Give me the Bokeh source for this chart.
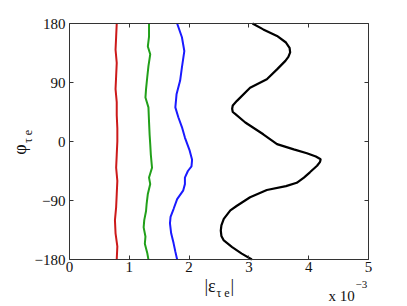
import numpy as np
from bokeh.plotting import figure
from bokeh.models import LinearAxis, Label, FixedTicker, Range1d
from bokeh.embed import file_html
from bokeh.resources import INLINE

# |eps| values in units of 1e-3, phi in degrees
phi_red = [180, 160, 140, 120, 100, 80, 60, 40, 20, 0, -20, -40, -60, -80, -100, -120, -140, -160, -180]
eps_red = [0.79, 0.78, 0.77, 0.79, 0.78, 0.77, 0.79, 0.79, 0.80, 0.80, 0.79, 0.78, 0.80, 0.79, 0.78, 0.76, 0.77, 0.80, 0.79]

phi_green = [180, 160, 145, 133, 115, 98, 80, 67, 52, 30, 10, -4, -20, -40, -55, -65, -80, -95, -106, -120, -131, -145, -156, -170, -180]
eps_green = [1.33, 1.33, 1.31, 1.35, 1.32, 1.30, 1.28, 1.27, 1.32, 1.33, 1.34, 1.35, 1.36, 1.38, 1.33, 1.35, 1.31, 1.29, 1.28, 1.25, 1.24, 1.27, 1.26, 1.30, 1.32]

phi_blue = [180, 159, 138, 113, 93, 72, 52, 37, 22, 6, -14, -28, -38, -45, -55, -65, -75, -88, -103, -115, -125, -140, -155, -168, -180]
eps_blue = [1.80, 1.88, 1.92, 1.88, 1.85, 1.79, 1.77, 1.82, 1.88, 1.93, 2.01, 2.05, 2.04, 1.98, 1.93, 1.93, 1.90, 1.80, 1.74, 1.69, 1.68, 1.70, 1.74, 1.77, 1.80]

phi_black = [180, 171, 161, 151, 143, 136, 129, 123, 110, 95, 82, 62, 55, 50, 45, 42, 29, 11, -4, -12, -18, -23, -27, -31, -37, -47, -55, -63, -68, -74, -85, -98, -105, -118, -128, -136, -144, -151, -161, -171, -180]
eps_black = [3.06, 3.24, 3.47, 3.62, 3.68, 3.69, 3.66, 3.61, 3.47, 3.30, 3.02, 2.80, 2.73, 2.72, 2.73, 2.77, 2.94, 3.24, 3.47, 3.75, 3.97, 4.12, 4.20, 4.19, 4.14, 4.02, 3.92, 3.80, 3.62, 3.30, 3.02, 2.80, 2.69, 2.58, 2.54, 2.53, 2.54, 2.58, 2.72, 2.88, 3.05]

x_ticks = [0, 1, 2, 3, 4, 5]
y_ticks = [-180, -90, 0, 90, 180]
X0, X1 = 0, 5
Y0, Y1 = -180, 180

FONT = "Liberation Serif"
AX = "#333333"

# canvas layout (pixels): the axes box spans these positions
W, H = 407, 306
BOX_L, BOX_R, BOX_T, BOX_B = 69, 368, 23, 259
sx = (BOX_R - BOX_L) / (X1 - X0)
sy = (BOX_B - BOX_T) / (Y1 - Y0)
x_range = Range1d(X0 - BOX_L / sx, X1 + (W - BOX_R) / sx)
y_range = Range1d(Y0 - (H - BOX_B) / sy, Y1 + BOX_T / sy)

p = figure(width=W, height=H, output_backend="svg", toolbar_location=None,
           x_range=x_range, y_range=y_range,
           x_axis_location=None, y_axis_location=None,
           min_border=0)
p.outline_line_color = None
p.grid.visible = False
p.background_fill_color = "white"
p.border_fill_color = "white"

def make_axis(ticks, loc, bounds, labels=True, standoff=4):
    ax = LinearAxis(fixed_location=loc, bounds=bounds)
    ax.ticker = FixedTicker(ticks=ticks)
    ax.minor_tick_line_color = None
    ax.major_tick_in = 4
    ax.major_tick_out = 0
    ax.axis_line_color = AX
    ax.major_tick_line_color = AX
    ax.major_label_text_font = FONT
    ax.major_label_text_color = "#111111"
    ax.major_label_text_font_size = "15px"
    ax.major_label_standoff = standoff
    if not labels:
        ax.major_label_overrides = {t: "" for t in ticks}
    return ax

bottom = make_axis(x_ticks, Y0, (X0, X1), standoff=2)
left = make_axis(y_ticks, X0, (Y0, Y1), standoff=4)
left.major_label_overrides = {t: str(t).replace("-", "\u2212") for t in y_ticks}
top = make_axis(x_ticks, Y1, (X0, X1), labels=False)
right = make_axis(y_ticks, X1, (Y0, Y1), labels=False)
p.add_layout(bottom, "below")
p.add_layout(left, "left")
p.add_layout(top, "above")
p.add_layout(right, "right")

p.line(eps_red, phi_red, line_color="#cc1a1a", line_width=2)
p.line(eps_green, phi_green, line_color="#22a01a", line_width=2)
p.line(eps_blue, phi_blue, line_color="#1a1aff", line_width=2)
p.line(eps_black, phi_black, line_color="black", line_width=2.2)

def lab(text, cx, cy, size, angle=0, align="left"):
    # cx, cy: canvas pixel positions, converted to data units of the frame
    p.add_layout(Label(text=text, x=X0 + (cx - BOX_L) / sx, y=Y1 - (cy - BOX_T) / sy,
                       text_font=FONT, text_font_size=size, angle=angle,
                       text_align=align, text_baseline="alphabetic", text_color="#111111"))

# x label |eps_{tau e}|
lab("|\u03b5", 204, 285, "18px")
lab("\u03c4 e", 216, 292, "12px")
lab("|", 230, 285, "18px")
# scale factor
lab("x 10", 328, 295, "15px")
lab("\u22123", 355, 284, "11px")
# y label phi_{tau e}
lab("\u03c6", 19, 149, "18px", angle=np.pi / 2, align="center")
lab("\u03c4 e", 27, 136, "12px", angle=np.pi / 2, align="center")

open("out.html", "w").write(file_html(p, INLINE))
